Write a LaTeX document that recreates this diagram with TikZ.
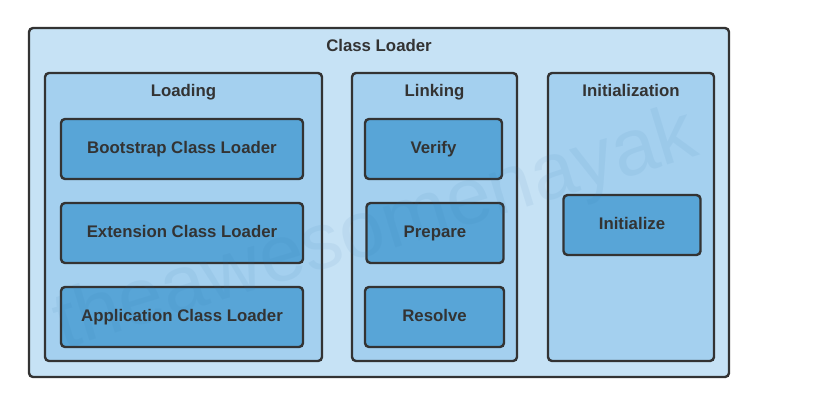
\documentclass[tikz,border=0pt]{standalone}
\usepackage{fontspec}
\setmainfont{Liberation Sans}
\definecolor{outerfill}{HTML}{C6E2F5}
\definecolor{midfill}{HTML}{A4D0EF}
\definecolor{innerfill}{HTML}{58A5D7}
\definecolor{edge}{HTML}{333333}
\definecolor{wmark}{HTML}{2C6FA8}
\tikzset{
  frame/.style={draw=edge, line width=2.4pt, rounded corners=4pt, inner sep=0pt, outer sep=0pt},
  outerbox/.style={frame, fill=outerfill},
  stagebox/.style={frame, fill=midfill},
  stepbox/.style={frame, fill=innerfill, text=edge, font=\fontsize{16.8}{20}\selectfont\bfseries, text height=12pt, text depth=3.4pt},
  titletext/.style={text=edge, font=\fontsize{16.8}{20}\selectfont\bfseries, inner sep=0pt, anchor=base},
}
\begin{document}
\begin{tikzpicture}[x=1pt,y=-1pt]
\useasboundingbox (0,0) rectangle (816,413);
\fill[white] (0,0) rectangle (816,413);
% outer container
\node[outerbox, minimum width=700pt, minimum height=349pt] (cl) at (379,202.5) {};
\node[titletext] (clt) at (379,51) {Class Loader};
% stages
\node[stagebox, minimum width=277pt, minimum height=288pt] (loading) at (183.5,217) {};
\node[titletext] (loadingt) at (183.5,96.5) {Loading};
\node[stagebox, minimum width=165pt, minimum height=288pt] (linking) at (434.5,217) {};
\node[titletext] (linkingt) at (434.5,96.5) {Linking};
\node[stagebox, minimum width=166pt, minimum height=288pt] (init) at (631,217) {};
\node[titletext] (initt) at (631,96.5) {Initialization};
% steps
\node[stepbox, minimum width=242pt, minimum height=60pt] (boot) at (182,149) {Bootstrap Class Loader};
\node[stepbox, minimum width=242pt, minimum height=60pt] (ext) at (182,233) {Extension Class Loader};
\node[stepbox, minimum width=242pt, minimum height=60pt] (app) at (182,317) {Application Class Loader};
\node[stepbox, minimum width=137pt, minimum height=60pt] (verify) at (433.5,149) {Verify};
\node[stepbox, minimum width=137pt, minimum height=60pt] (prepare) at (435,233) {Prepare};
\node[stepbox, minimum width=139pt, minimum height=60pt] (resolve) at (434.5,317) {Resolve};
\node[stepbox, minimum width=137pt, minimum height=60pt] (initialize) at (632,225) {Initialize};
% watermark
\node[text=wmark, opacity=0.07, rotate=17, font=\fontsize{80}{86}\selectfont, inner sep=0pt] (wm) at (376,232) {theawesomenayak};
\end{tikzpicture}
\end{document}
